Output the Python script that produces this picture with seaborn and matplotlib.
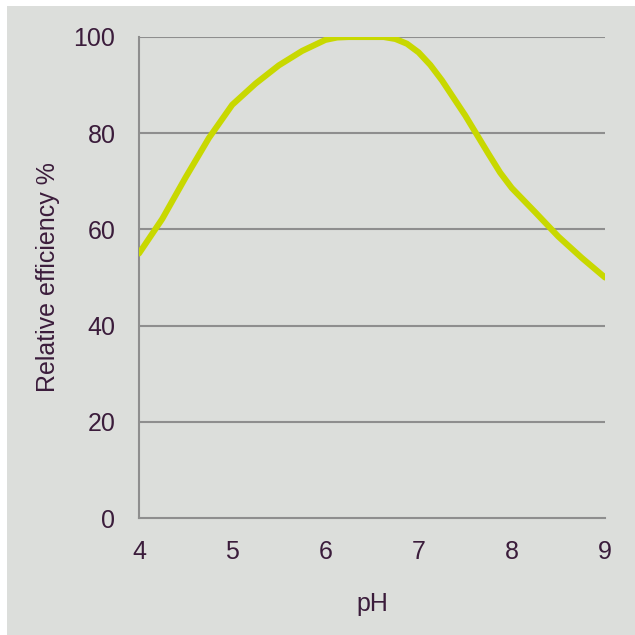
import pandas as pd
import matplotlib.pyplot as plt
import seaborn as sns
from matplotlib.patches import Rectangle

# values
ph = [4.0, 4.25, 4.5, 4.75, 5.0, 5.25, 5.5, 5.75, 6.0, 6.125, 6.25, 6.5,
      6.625, 6.75, 6.875, 7.0, 7.125, 7.25, 7.5, 7.75, 7.875, 8.0, 8.25,
      8.5, 8.75, 9.0]
efficiency = [55, 62.2, 70.8, 79, 85.9, 90.3, 94.1, 97.1, 99.4, 99.9, 100, 100,
              100, 99.6, 98.6, 96.8, 94.2, 91, 83.7, 75.7, 71.8, 68.6, 63.6,
              58.5, 54.1, 50]
x_ticks = [4, 5, 6, 7, 8, 9]
y_ticks = [0, 20, 40, 60, 80, 100]

df = pd.DataFrame({'pH': ph, 'eff': efficiency})

bg = '#dcdedb'
text_col = '#3b1c3b'
grid_col = '#8e8e8e'

sns.set_style('white')
plt.rcParams['font.family'] = ['Liberation Sans', 'DejaVu Sans']

fig = plt.figure(figsize=(6.35, 6.35), dpi=100, facecolor='white')
fig.patches.append(Rectangle((7 / 635, 0), 1, 1 - 6 / 635, transform=fig.transFigure,
                             facecolor=bg, edgecolor='none', zorder=-10))
ax = fig.add_axes([139 / 635, 1 - 518 / 635, 466 / 635, 481 / 635])
ax.set_facecolor(bg)

sns.lineplot(x='pH', y='eff', data=df, ax=ax, color='#c8d800', linewidth=4.4,
             solid_capstyle='round', solid_joinstyle='round', zorder=3)

ax.set_xlim(4, 9)
ax.set_ylim(0, 100)
ax.set_xticks(x_ticks)
ax.set_yticks(y_ticks)
for y in y_ticks[1:]:
    ax.axhline(y, color=grid_col, linewidth=1.5, zorder=1)

for side in ['top', 'right']:
    ax.spines[side].set_visible(False)
for side in ['left', 'bottom']:
    ax.spines[side].set_color(grid_col)
    ax.spines[side].set_linewidth(1.5)

ax.tick_params(axis='both', length=0, labelsize=18, colors=text_col)
ax.tick_params(axis='x', pad=16)
ax.tick_params(axis='y', pad=17)
ax.set_xlabel('pH', fontsize=18, color=text_col, labelpad=20)
ax.set_ylabel('Relative efficiency %', fontsize=18, color=text_col, labelpad=10)

plt.savefig('out.png', dpi=100, facecolor=fig.get_facecolor())
plt.close()
